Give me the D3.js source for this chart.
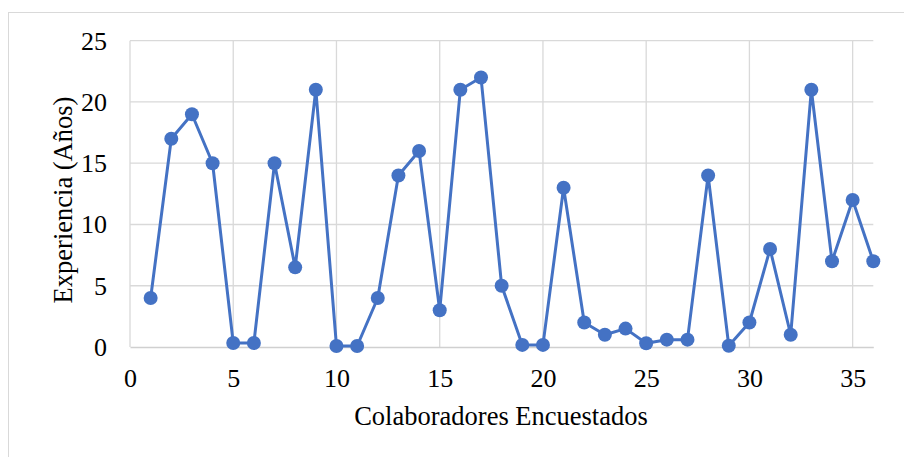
<!DOCTYPE html>
<html>
<head>
<meta charset="utf-8">
<script src="https://cdn.jsdelivr.net/npm/d3@7"></script>
<style>
  html, body { margin: 0; padding: 0; background: #fff; }
  svg { display: block; }
</style>
</head>
<body>
<svg id="chart" width="904" height="457"></svg>
<script>
// Respondent number and years of experience
const respondents = d3.range(1, 37);
const experience = [4, 17, 19, 15, 0.33, 0.33, 15, 6.5, 21, 0.08, 0.08, 4, 14, 16, 3, 21, 22, 5,
  0.17, 0.17, 13, 2, 1, 1.5, 0.3, 0.6, 0.6, 14, 0.1, 2, 8, 1, 21, 7, 12, 7];
const xTicks = [0, 5, 10, 15, 20, 25, 30, 35];
const yTicks = [0, 5, 10, 15, 20, 25];
const xTitle = "Colaboradores Encuestados";
const yTitle = "Experiencia (Años)";

const data = respondents.map((r, i) => ({ x: r, y: experience[i] }));

const svg = d3.select("#chart");
const plot = { left: 130, right: 873.3, top: 40.7, bottom: 347 };
const font = "'Liberation Serif', 'Times New Roman', serif";
const blue = "#4472C4";
const tickSize = 26;
const titleSize = 26.5;

// Chart frame
svg.append("rect")
  .attr("x", 8.5).attr("y", 12.5)
  .attr("width", 1000).attr("height", 1000)
  .attr("fill", "none").attr("stroke", "#d9d9d9").attr("stroke-width", 1);

const x = d3.scaleLinear().domain([0, 36]).range([plot.left, plot.right]);
const y = d3.scaleLinear().domain([0, 25]).range([plot.bottom, plot.top]);

// Grid
const grid = svg.append("g");
grid.selectAll("line.h").data(yTicks.filter(t => t > 0)).join("line")
  .attr("x1", plot.left).attr("x2", plot.right)
  .attr("y1", d => y(d)).attr("y2", d => y(d))
  .attr("stroke", "#d9d9d9").attr("stroke-width", 1.3);
grid.selectAll("line.v").data(xTicks).join("line")
  .attr("x1", d => x(d)).attr("x2", d => x(d))
  .attr("y1", plot.top).attr("y2", plot.bottom)
  .attr("stroke", "#d9d9d9").attr("stroke-width", 1.3);

// Axes
const xAxis = svg.append("g")
  .attr("transform", `translate(0,${plot.bottom})`)
  .call(d3.axisBottom(x).tickValues(xTicks).tickSize(0).tickPadding(22).tickFormat(d3.format("d")));
xAxis.select(".domain").attr("stroke", "#d0d0d0").attr("stroke-width", 1.5);
xAxis.selectAll("text").attr("font-family", font).attr("font-size", tickSize).attr("fill", "#000");

const yAxis = svg.append("g")
  .attr("transform", `translate(${plot.left},0)`)
  .call(d3.axisLeft(y).tickValues(yTicks).tickSize(0).tickPadding(23).tickFormat(d3.format("d")));
yAxis.select(".domain").remove();
yAxis.selectAll("text").attr("font-family", font).attr("font-size", tickSize).attr("fill", "#000");

// Series line and markers
svg.append("path")
  .datum(data)
  .attr("fill", "none")
  .attr("stroke", blue)
  .attr("stroke-width", 3)
  .attr("stroke-linejoin", "round")
  .attr("d", d3.line().x(d => x(d.x)).y(d => y(d.y)));

svg.append("g").selectAll("circle").data(data).join("circle")
  .attr("cx", d => x(d.x)).attr("cy", d => y(d.y))
  .attr("r", 7).attr("fill", blue);

// Axis titles
svg.append("text")
  .attr("x", 501).attr("y", 425)
  .attr("text-anchor", "middle")
  .attr("font-family", font).attr("font-size", titleSize).attr("fill", "#000")
  .text(xTitle);

svg.append("text")
  .attr("transform", `translate(72,200) rotate(-90)`)
  .attr("text-anchor", "middle")
  .attr("font-family", font).attr("font-size", titleSize).attr("fill", "#000")
  .text(yTitle);
</script>
</body>
</html>
